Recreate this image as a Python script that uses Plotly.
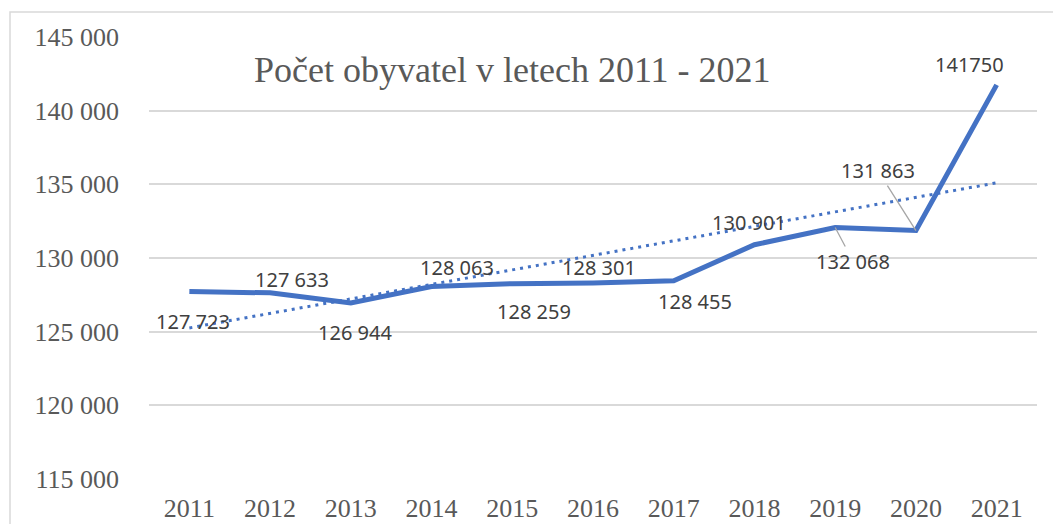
import numpy as np
import plotly.graph_objects as go

years = ["2011", "2012", "2013", "2014", "2015", "2016", "2017", "2018", "2019", "2020", "2021"]
population = [127723, 127633, 126944, 128063, 128259, 128301, 128455, 130901, 132068, 131863, 141750]
label_texts = ["127 723", "127 633", "126 944", "128 063", "128 259", "128 301",
               "128 455", "130 901", "132 068", "131 863", "141750"]
y_tickvals = [115000, 120000, 125000, 130000, 135000, 140000, 145000]
y_ticktext = ["115 000", "120 000", "125 000", "130 000", "135 000", "140 000", "145 000"]
title_text = "Počet obyvatel v letech 2011 - 2021"

# label placement (pixel offsets from the point)
label_offsets = [(4, -30), (22, 13), (4, -29), (25, 19), (22, -28), (6, 16),
                 (21, -21), (-5, 22), None, None, (-27, 20)]
leader_offsets = {8: (18, 34), 9: (-38, -60)}

W, H = 1053, 524
ML, MR, MT, MB = 149, 16, 37, 45
PW, PH = W - ML - MR, H - MT - MB

idx = list(range(len(years)))
slope, intercept = np.polyfit(idx, population, 1)
trend = [float(slope * i + intercept) for i in idx]

BLUE = "#4472C4"
fig = go.Figure()
fig.add_trace(go.Scatter(x=idx, y=population, mode="lines",
                         line=dict(color=BLUE, width=5), hoverinfo="skip"))
fig.add_trace(go.Scatter(x=idx, y=trend, mode="lines",
                         line=dict(color=BLUE, width=3, dash="3px,5px"), hoverinfo="skip"))

lab_font = dict(family="Noto Sans", size=20, color="#404040")
for i, val, txt in zip(idx, population, label_texts):
    if i in leader_offsets:
        ax, ay = leader_offsets[i]
        fig.add_annotation(x=i, y=val, xref="x", yref="y", text=txt, showarrow=True,
                           arrowhead=0, arrowwidth=1.3, arrowcolor="#a6a6a6",
                           ax=ax, ay=ay, font=lab_font, standoff=0)
    else:
        dx, dy = label_offsets[i]
        fig.add_annotation(x=i, y=val, xref="x", yref="y", text=txt, showarrow=False,
                           xshift=dx, yshift=dy, font=lab_font)

fig.add_annotation(x=(512 - ML) / PW, y=(H - MB - 70) / PH, xref="paper", yref="paper",
                   text=title_text, showarrow=False, xanchor="center", yanchor="middle",
                   font=dict(family="Liberation Serif", size=36, color="#595959"))

fig.update_layout(
    width=W, height=H,
    margin=dict(l=ML, r=MR, t=MT, b=MB),
    paper_bgcolor="white", plot_bgcolor="white",
    showlegend=False,
    shapes=[dict(type="rect", xref="paper", yref="paper",
                 x0=(10 - ML) / PW, x1=1.2, y0=-0.3, y1=(H - MB - 12) / PH,
                 line=dict(color="#d9d9d9", width=1.5), fillcolor="rgba(0,0,0,0)", layer="below")],
    xaxis=dict(range=[-0.5, 10.5], tickvals=idx, ticktext=years, showgrid=False, zeroline=False,
               showline=False, ticks="", ticklabelstandoff=11, automargin=False,
               tickfont=dict(family="Liberation Serif", size=26, color="#595959")),
    yaxis=dict(range=[115000, 145000], tickvals=y_tickvals, ticktext=y_ticktext,
               showgrid=True, gridcolor="#d9d9d9", gridwidth=1.5, zeroline=False,
               showline=False, ticks="", ticklabelstandoff=29, automargin=False,
               tickfont=dict(family="Liberation Serif", size=26, color="#595959")),
)

fig.write_html("out.html", config={"displayModeBar": False},
               post_script="document.body.style.margin='0';")
